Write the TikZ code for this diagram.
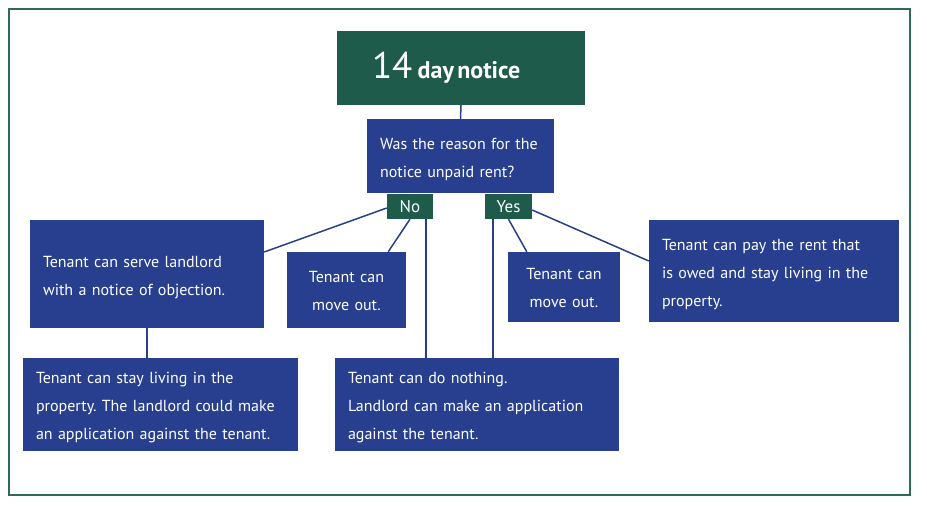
\documentclass[tikz,border=0pt]{standalone}
\usepackage{fontspec}
\setmainfont{PT Sans}
\usetikzlibrary{positioning, calc}
\definecolor{nbgreen}{HTML}{1F5B4A}
\definecolor{frgreen}{HTML}{2E6B57}
\definecolor{qblue}{HTML}{273F8E}
\definecolor{lnblue}{HTML}{2A3F8A}
\frenchspacing

\begin{document}
\begin{tikzpicture}[x=1pt, y=-1pt,
  qbox/.style={rectangle, fill=qblue, text=white, inner ysep=0pt,
    font=\fontsize{16}{28}\selectfont},
  leftbox/.style={qbox, inner xsep=13pt, align=left,
    execute at begin node={\rule{0pt}{18pt}}},
  midbox/.style={qbox, inner xsep=0pt, align=center,
    execute at begin node={\rule{0pt}{14pt}}},
  tag/.style={rectangle, fill=nbgreen, text=white, inner sep=0pt,
    minimum width=46pt, minimum height=25pt, font=\fontsize{17}{20}\selectfont},
  link/.style={draw=lnblue, line width=1.5pt},
]

% Frame
\useasboundingbox (0,0) rectangle (927,506);
\draw[frgreen, line width=2pt] (9,9) rectangle (910,495);

\node[rectangle, fill=nbgreen, text=white, inner xsep=35pt, inner ysep=0pt,
  text width=178pt, align=left, minimum height=74pt] (title) at (461,68)
  {{\fontsize{37}{40}\selectfont 14\hspace{2pt}} {\fontsize{24}{26}\selectfont\bfseries day notice}};

\node[leftbox, text width=161pt, minimum height=74pt] (reason) at (460.5,156)
  {Was the reason for the\\notice unpaid rent?};

\node[tag] (no) at (410,206.5) {No};
\node[tag, minimum width=47pt] (yes) at (508.5,206.5) {Yes};

\node[leftbox, text width=208pt, minimum height=108pt] (objection) at (147,274)
  {Tenant can serve landlord\\with a notice of objection.};
\node[midbox, text width=119pt, minimum height=76pt] (moveno) at (346.5,290)
  {Tenant can\\move out.};
\node[midbox, text width=112pt, minimum height=70pt] (moveyes) at (564,287)
  {Tenant can\\move out.};
\node[leftbox, text width=224pt, minimum height=102pt] (payrent) at (774,271)
  {Tenant can pay the rent that\\is owed and stay living in the\\property.};
\node[leftbox, text width=249pt, minimum height=93pt] (stay) at (160.5,404.5)
  {Tenant can stay living in the\\property. The landlord could make\\an application against the tenant.};
\node[leftbox, text width=258pt, minimum height=93pt] (nothing) at (477,404.5)
  {Tenant can do nothing.\\Landlord can make an application\\against the tenant.};

% Connectors
\draw[link] (title.south) -- (reason.north);
\draw[link] ([yshift=-1.5pt]no.west) -- ([yshift=22pt]objection.east);
\draw[link] (no.south) -- ([xshift=-18pt]moveno.north east);
\draw[link] ([xshift=-7pt]no.south east) -- ([xshift=-7pt]no.south east |- nothing.north);
\draw[link] ([xshift=8pt]yes.south west) -- ([xshift=8pt]yes.south west |- nothing.north);
\draw[link] (yes.south) -- ([xshift=19pt]moveyes.north west);
\draw[link] ([yshift=-3.5pt]yes.east) -- ([yshift=10pt]payrent.west);
\draw[link] (objection.south) -- (objection.south |- stay.north);
\end{tikzpicture}
\end{document}
